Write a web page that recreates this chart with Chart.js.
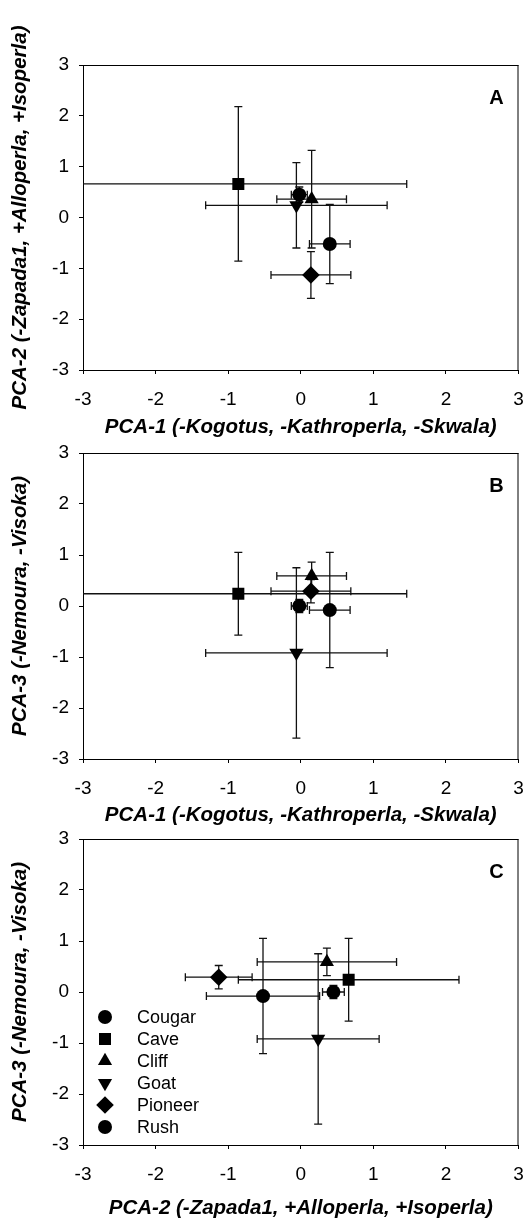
<!DOCTYPE html>
<html lang="en">
<head>
<meta charset="UTF-8">
<script src="https://cdn.jsdelivr.net/npm/chart.js"></script>
<title>PCA site scores</title>
<style>
    body { margin: 0; background: #fff; }
    .panel { position: absolute; left: 0; width: 528px; }
</style>
</head>
<body>
<div class="panel" style="top:0px"><canvas id="chartA" width="528" height="440"></canvas></div>
<div class="panel" style="top:430px"><canvas id="chartB" width="528" height="400"></canvas></div>
<div class="panel" style="top:815px"><canvas id="chartC" width="528" height="410"></canvas></div>
<script>
// site means +/- error
const sites = ['Cougar', 'Cave', 'Cliff', 'Goat', 'Pioneer', 'Rush'];
const pca1 = [0.40, -0.86, 0.15, -0.06, 0.14, -0.02];
const pca1Err = [0.28, 2.32, 0.48, 1.25, 0.55, 0.11];
const pca2 = [-0.52, 0.66, 0.36, 0.24, -1.13, 0.45];
const pca2Err = [0.78, 1.52, 0.96, 0.84, 0.46, 0.15];
const pca3 = [-0.08, 0.24, 0.59, -0.92, 0.29, 0.00];
const pca3Err = [1.13, 0.81, 0.27, 1.67, 0.23, 0.13];
const tickValues = [-3, -2, -1, 0, 1, 2, 3];

const title1 = 'PCA-1 (-Kogotus, -Kathroperla, -Skwala)';
const title2 = 'PCA-2 (-Zapada1, +Alloperla, +Isoperla)';
const title3 = 'PCA-3 (-Nemoura, -Visoka)';

// marker look per site
const shapes = ['circle', 'rect', 'triangle', 'triangle', 'rectRot', 'circle'];
const turns = [0, 0, 0, 180, 0, 0];
const sizes = [7, 8.5, 8.2, 8.2, 8.8, 7];

const FONT = "'Liberation Sans', Arial, sans-serif";

function makePanel(id, xs, xErr, ys, yErr, xTitle, yTitle, letter, pad, legend) {
    let datasets = [];
    for (let i = 0; i < sites.length; i++) {
        datasets.push({
            label: sites[i],
            data: [{ x: xs[i], y: ys[i] }],
            pointStyle: shapes[i],
            rotation: turns[i],
            pointRadius: sizes[i],
            pointHoverRadius: sizes[i],
            backgroundColor: '#000',
            borderColor: '#000',
            borderWidth: 0
        });
    }

    // error bars under the markers, clipped to the plot box
    let errorBars = {
        id: 'errorBars',
        beforeDatasetsDraw(chart) {
            let ctx = chart.ctx, a = chart.chartArea;
            let sx = chart.scales.x, sy = chart.scales.y;
            ctx.save();
            ctx.beginPath();
            ctx.rect(a.left, a.top, a.right - a.left, a.bottom - a.top);
            ctx.clip();
            ctx.strokeStyle = '#111';
            ctx.lineWidth = 1.3;
            let cap = 4;
            for (let i = 0; i < xs.length; i++) {
                let px = sx.getPixelForValue(xs[i]);
                let py = sy.getPixelForValue(ys[i]);
                let x0 = sx.getPixelForValue(xs[i] - xErr[i]);
                let x1 = sx.getPixelForValue(xs[i] + xErr[i]);
                let y0 = sy.getPixelForValue(ys[i] - yErr[i]);
                let y1 = sy.getPixelForValue(ys[i] + yErr[i]);
                ctx.beginPath();
                ctx.moveTo(x0, py); ctx.lineTo(x1, py);
                ctx.moveTo(x0, py - cap); ctx.lineTo(x0, py + cap);
                ctx.moveTo(x1, py - cap); ctx.lineTo(x1, py + cap);
                ctx.moveTo(px, y0); ctx.lineTo(px, y1);
                ctx.moveTo(px - cap, y0); ctx.lineTo(px + cap, y0);
                ctx.moveTo(px - cap, y1); ctx.lineTo(px + cap, y1);
                ctx.stroke();
            }
            ctx.restore();
        }
    };

    // box, panel letter and (panel C) the legend
    let extras = {
        id: 'extras',
        afterDraw(chart) {
            let ctx = chart.ctx, a = chart.chartArea;
            ctx.save();
            ctx.strokeStyle = '#000';
            ctx.lineWidth = 1;
            ctx.beginPath();
            ctx.moveTo(a.left, a.top + 0.5); ctx.lineTo(a.right, a.top + 0.5);
            ctx.moveTo(a.right - 0.5, a.top); ctx.lineTo(a.right - 0.5, a.bottom);
            ctx.stroke();
            ctx.fillStyle = '#000';
            ctx.font = 'bold 20px ' + FONT;
            ctx.textAlign = 'center';
            ctx.textBaseline = 'middle';
            ctx.fillText(letter, a.right - 22, a.top + 33);
            if (legend) {
                ctx.font = '18px ' + FONT;
                ctx.textAlign = 'left';
                chart.data.datasets.forEach((ds, i) => {
                    let ly = a.top + 178 + i * 22;
                    Chart.helpers.drawPoint(ctx, {
                        pointStyle: ds.pointStyle, rotation: ds.rotation,
                        radius: ds.pointRadius, borderWidth: 0
                    }, a.left + 22, ly);
                    ctx.fillText(ds.label, a.left + 54, ly + 1);
                });
            }
            ctx.restore();
        }
    };

    let tickFont = { family: FONT, size: 19 };
    let titleFont = { family: FONT, size: 20.5, weight: 'bold', style: 'italic' };

    return new Chart(document.getElementById(id), {
        type: 'scatter',
        data: { datasets: datasets },
        options: {
            responsive: false,
            animation: false,
            events: [],
            layout: { padding: { top: pad.top, right: 9.5, left: 0, bottom: 0 } },
            plugins: { legend: { display: false }, tooltip: { enabled: false } },
            scales: {
                x: {
                    type: 'linear', min: -3, max: 3,
                    afterBuildTicks: (s) => { s.ticks = tickValues.map(v => ({ value: v })); },
                    afterFit: (s) => { s.height = pad.scaleH; s.paddingLeft = 0; s.paddingRight = 0; },
                    grid: { drawOnChartArea: false, tickLength: 4, color: '#000' },
                    border: { color: '#000', width: 1 },
                    ticks: { color: '#000', font: tickFont, padding: 14, maxRotation: 0 },
                    title: { display: true, text: xTitle, color: '#000', font: titleFont,
                             padding: { top: 0, bottom: pad.titleB } }
                },
                y: {
                    type: 'linear', min: -3, max: 3,
                    afterBuildTicks: (s) => { s.ticks = tickValues.map(v => ({ value: v })); },
                    afterFit: (s) => { s.width = 83; s.paddingTop = 0; s.paddingBottom = 0; },
                    grid: { drawOnChartArea: false, tickLength: 4, color: '#000' },
                    border: { color: '#000', width: 1 },
                    ticks: { color: '#000', font: tickFont, padding: 10 },
                    title: { display: true, text: yTitle, color: '#000', font: titleFont,
                             padding: { top: 8.5, bottom: 0 } }
                }
            }
        },
        plugins: [errorBars, extras]
    });
}

makePanel('chartA', pca1, pca1Err, pca2, pca2Err, title1, title2, 'A',
          { top: 65, scaleH: 70, titleB: 0 }, false);
makePanel('chartB', pca1, pca1Err, pca3, pca3Err, title1, title3, 'B',
          { top: 23, scaleH: 71, titleB: 2 }, false);
makePanel('chartC', pca2, pca2Err, pca3, pca3Err, title2, title3, 'C',
          { top: 24, scaleH: 80, titleB: 4 }, true);
</script>
</body>
</html>
